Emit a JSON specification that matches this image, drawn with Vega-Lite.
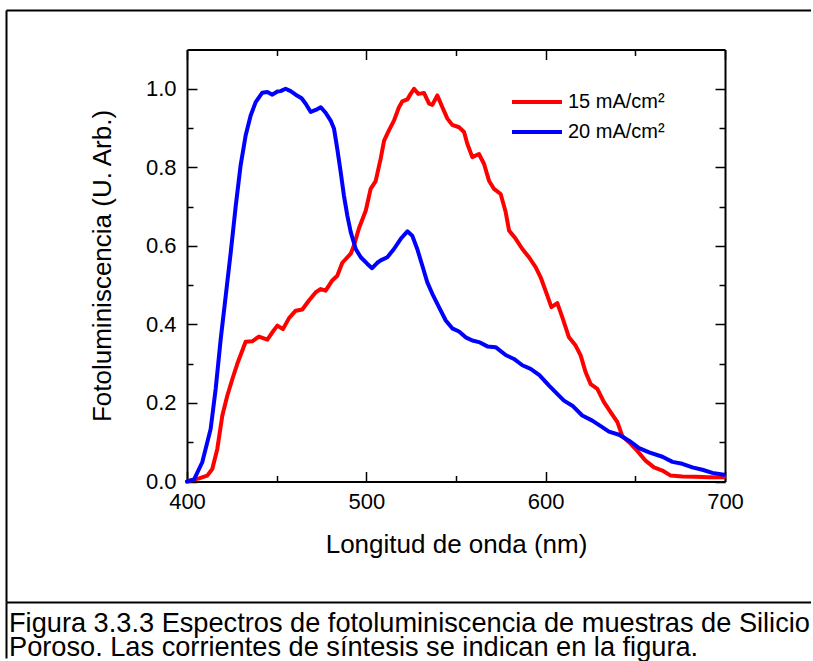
{
  "$schema": "https://vega.github.io/schema/vega-lite/v6.json",
  "padding": {"left": 6, "top": 10, "right": 0, "bottom": 0},
  "spacing": 0,
  "config": {
    "font": "Liberation Sans",
    "view": {"stroke": null},
    "axis": {"grid": false, "domainColor": "black", "domainWidth": 2, "tickColor": "black", "tickWidth": 1.5, "labelColor": "black", "titleColor": "black", "titleFontWeight": "normal"},
    "concat": {"spacing": 0}
  },
  "datasets": {
    "spectra": [
      {"wl": 400, "pl": 0.0, "serie": "15 mA/cm²"},
      {"wl": 406.7, "pl": 0.008, "serie": "15 mA/cm²"},
      {"wl": 411.3, "pl": 0.015, "serie": "15 mA/cm²"},
      {"wl": 414.1, "pl": 0.032, "serie": "15 mA/cm²"},
      {"wl": 416.9, "pl": 0.083, "serie": "15 mA/cm²"},
      {"wl": 419.7, "pl": 0.168, "serie": "15 mA/cm²"},
      {"wl": 422.5, "pl": 0.219, "serie": "15 mA/cm²"},
      {"wl": 425.3, "pl": 0.261, "serie": "15 mA/cm²"},
      {"wl": 428, "pl": 0.299, "serie": "15 mA/cm²"},
      {"wl": 430.8, "pl": 0.333, "serie": "15 mA/cm²"},
      {"wl": 432.7, "pl": 0.356, "serie": "15 mA/cm²"},
      {"wl": 436.4, "pl": 0.357, "serie": "15 mA/cm²"},
      {"wl": 440.1, "pl": 0.369, "serie": "15 mA/cm²"},
      {"wl": 444.8, "pl": 0.361, "serie": "15 mA/cm²"},
      {"wl": 447.6, "pl": 0.38, "serie": "15 mA/cm²"},
      {"wl": 450.4, "pl": 0.397, "serie": "15 mA/cm²"},
      {"wl": 453.5, "pl": 0.388, "serie": "15 mA/cm²"},
      {"wl": 456.9, "pl": 0.416, "serie": "15 mA/cm²"},
      {"wl": 460.6, "pl": 0.435, "serie": "15 mA/cm²"},
      {"wl": 464.3, "pl": 0.438, "serie": "15 mA/cm²"},
      {"wl": 468, "pl": 0.461, "serie": "15 mA/cm²"},
      {"wl": 471.8, "pl": 0.482, "serie": "15 mA/cm²"},
      {"wl": 474.6, "pl": 0.49, "serie": "15 mA/cm²"},
      {"wl": 477.3, "pl": 0.486, "serie": "15 mA/cm²"},
      {"wl": 481, "pl": 0.512, "serie": "15 mA/cm²"},
      {"wl": 483.8, "pl": 0.524, "serie": "15 mA/cm²"},
      {"wl": 486.6, "pl": 0.557, "serie": "15 mA/cm²"},
      {"wl": 491.3, "pl": 0.58, "serie": "15 mA/cm²"},
      {"wl": 493.1, "pl": 0.601, "serie": "15 mA/cm²"},
      {"wl": 495.9, "pl": 0.645, "serie": "15 mA/cm²"},
      {"wl": 499.7, "pl": 0.69, "serie": "15 mA/cm²"},
      {"wl": 502.4, "pl": 0.745, "serie": "15 mA/cm²"},
      {"wl": 505.2, "pl": 0.765, "serie": "15 mA/cm²"},
      {"wl": 508, "pl": 0.822, "serie": "15 mA/cm²"},
      {"wl": 509.9, "pl": 0.868, "serie": "15 mA/cm²"},
      {"wl": 512.6, "pl": 0.894, "serie": "15 mA/cm²"},
      {"wl": 515.4, "pl": 0.919, "serie": "15 mA/cm²"},
      {"wl": 518.2, "pl": 0.953, "serie": "15 mA/cm²"},
      {"wl": 520.1, "pl": 0.968, "serie": "15 mA/cm²"},
      {"wl": 522.9, "pl": 0.973, "serie": "15 mA/cm²"},
      {"wl": 524.7, "pl": 0.987, "serie": "15 mA/cm²"},
      {"wl": 526.6, "pl": 1.0, "serie": "15 mA/cm²"},
      {"wl": 529, "pl": 0.987, "serie": "15 mA/cm²"},
      {"wl": 532.2, "pl": 0.989, "serie": "15 mA/cm²"},
      {"wl": 535, "pl": 0.962, "serie": "15 mA/cm²"},
      {"wl": 536.8, "pl": 0.959, "serie": "15 mA/cm²"},
      {"wl": 539.6, "pl": 0.983, "serie": "15 mA/cm²"},
      {"wl": 542.4, "pl": 0.953, "serie": "15 mA/cm²"},
      {"wl": 545.2, "pl": 0.924, "serie": "15 mA/cm²"},
      {"wl": 547.9, "pl": 0.908, "serie": "15 mA/cm²"},
      {"wl": 551.7, "pl": 0.902, "serie": "15 mA/cm²"},
      {"wl": 554.5, "pl": 0.89, "serie": "15 mA/cm²"},
      {"wl": 556.3, "pl": 0.86, "serie": "15 mA/cm²"},
      {"wl": 559.1, "pl": 0.826, "serie": "15 mA/cm²"},
      {"wl": 562.8, "pl": 0.834, "serie": "15 mA/cm²"},
      {"wl": 565.6, "pl": 0.809, "serie": "15 mA/cm²"},
      {"wl": 568.4, "pl": 0.766, "serie": "15 mA/cm²"},
      {"wl": 571.2, "pl": 0.745, "serie": "15 mA/cm²"},
      {"wl": 574.9, "pl": 0.732, "serie": "15 mA/cm²"},
      {"wl": 577.7, "pl": 0.686, "serie": "15 mA/cm²"},
      {"wl": 579.6, "pl": 0.639, "serie": "15 mA/cm²"},
      {"wl": 583.3, "pl": 0.618, "serie": "15 mA/cm²"},
      {"wl": 587, "pl": 0.592, "serie": "15 mA/cm²"},
      {"wl": 590.7, "pl": 0.571, "serie": "15 mA/cm²"},
      {"wl": 594.4, "pl": 0.546, "serie": "15 mA/cm²"},
      {"wl": 597.2, "pl": 0.52, "serie": "15 mA/cm²"},
      {"wl": 600, "pl": 0.485, "serie": "15 mA/cm²"},
      {"wl": 603.2, "pl": 0.444, "serie": "15 mA/cm²"},
      {"wl": 606.5, "pl": 0.454, "serie": "15 mA/cm²"},
      {"wl": 609.3, "pl": 0.418, "serie": "15 mA/cm²"},
      {"wl": 613, "pl": 0.367, "serie": "15 mA/cm²"},
      {"wl": 616.7, "pl": 0.346, "serie": "15 mA/cm²"},
      {"wl": 619.5, "pl": 0.321, "serie": "15 mA/cm²"},
      {"wl": 622.3, "pl": 0.278, "serie": "15 mA/cm²"},
      {"wl": 625.1, "pl": 0.248, "serie": "15 mA/cm²"},
      {"wl": 628.8, "pl": 0.236, "serie": "15 mA/cm²"},
      {"wl": 632.5, "pl": 0.202, "serie": "15 mA/cm²"},
      {"wl": 636.3, "pl": 0.176, "serie": "15 mA/cm²"},
      {"wl": 640, "pl": 0.151, "serie": "15 mA/cm²"},
      {"wl": 642.8, "pl": 0.115, "serie": "15 mA/cm²"},
      {"wl": 646.5, "pl": 0.1, "serie": "15 mA/cm²"},
      {"wl": 651.1, "pl": 0.078, "serie": "15 mA/cm²"},
      {"wl": 655.7, "pl": 0.053, "serie": "15 mA/cm²"},
      {"wl": 660.4, "pl": 0.036, "serie": "15 mA/cm²"},
      {"wl": 665.1, "pl": 0.028, "serie": "15 mA/cm²"},
      {"wl": 669.7, "pl": 0.015, "serie": "15 mA/cm²"},
      {"wl": 676.2, "pl": 0.013, "serie": "15 mA/cm²"},
      {"wl": 683.6, "pl": 0.012, "serie": "15 mA/cm²"},
      {"wl": 691, "pl": 0.011, "serie": "15 mA/cm²"},
      {"wl": 699.5, "pl": 0.011, "serie": "15 mA/cm²"},
      {"wl": 400, "pl": 0.0, "serie": "20 mA/cm²"},
      {"wl": 403.9, "pl": 0.005, "serie": "20 mA/cm²"},
      {"wl": 408.5, "pl": 0.049, "serie": "20 mA/cm²"},
      {"wl": 413.2, "pl": 0.134, "serie": "20 mA/cm²"},
      {"wl": 416, "pl": 0.236, "serie": "20 mA/cm²"},
      {"wl": 418.8, "pl": 0.363, "serie": "20 mA/cm²"},
      {"wl": 421.6, "pl": 0.473, "serie": "20 mA/cm²"},
      {"wl": 424.4, "pl": 0.584, "serie": "20 mA/cm²"},
      {"wl": 427.2, "pl": 0.703, "serie": "20 mA/cm²"},
      {"wl": 429.9, "pl": 0.805, "serie": "20 mA/cm²"},
      {"wl": 432.7, "pl": 0.881, "serie": "20 mA/cm²"},
      {"wl": 435.5, "pl": 0.932, "serie": "20 mA/cm²"},
      {"wl": 438.3, "pl": 0.966, "serie": "20 mA/cm²"},
      {"wl": 442, "pl": 0.99, "serie": "20 mA/cm²"},
      {"wl": 444.8, "pl": 0.992, "serie": "20 mA/cm²"},
      {"wl": 447.6, "pl": 0.985, "serie": "20 mA/cm²"},
      {"wl": 450.4, "pl": 0.993, "serie": "20 mA/cm²"},
      {"wl": 452.2, "pl": 0.994, "serie": "20 mA/cm²"},
      {"wl": 455, "pl": 1.0, "serie": "20 mA/cm²"},
      {"wl": 457.8, "pl": 0.994, "serie": "20 mA/cm²"},
      {"wl": 460.6, "pl": 0.985, "serie": "20 mA/cm²"},
      {"wl": 463.9, "pl": 0.976, "serie": "20 mA/cm²"},
      {"wl": 466.2, "pl": 0.962, "serie": "20 mA/cm²"},
      {"wl": 469, "pl": 0.941, "serie": "20 mA/cm²"},
      {"wl": 471.8, "pl": 0.946, "serie": "20 mA/cm²"},
      {"wl": 474.6, "pl": 0.953, "serie": "20 mA/cm²"},
      {"wl": 477.3, "pl": 0.939, "serie": "20 mA/cm²"},
      {"wl": 480.1, "pl": 0.919, "serie": "20 mA/cm²"},
      {"wl": 482, "pl": 0.898, "serie": "20 mA/cm²"},
      {"wl": 483.8, "pl": 0.847, "serie": "20 mA/cm²"},
      {"wl": 485.7, "pl": 0.788, "serie": "20 mA/cm²"},
      {"wl": 487.5, "pl": 0.728, "serie": "20 mA/cm²"},
      {"wl": 489.4, "pl": 0.677, "serie": "20 mA/cm²"},
      {"wl": 491.3, "pl": 0.635, "serie": "20 mA/cm²"},
      {"wl": 494.1, "pl": 0.592, "serie": "20 mA/cm²"},
      {"wl": 496.9, "pl": 0.571, "serie": "20 mA/cm²"},
      {"wl": 500.6, "pl": 0.554, "serie": "20 mA/cm²"},
      {"wl": 503.2, "pl": 0.543, "serie": "20 mA/cm²"},
      {"wl": 506.1, "pl": 0.557, "serie": "20 mA/cm²"},
      {"wl": 508, "pl": 0.563, "serie": "20 mA/cm²"},
      {"wl": 511.7, "pl": 0.571, "serie": "20 mA/cm²"},
      {"wl": 515.4, "pl": 0.592, "serie": "20 mA/cm²"},
      {"wl": 519.2, "pl": 0.618, "serie": "20 mA/cm²"},
      {"wl": 522.9, "pl": 0.637, "serie": "20 mA/cm²"},
      {"wl": 525.6, "pl": 0.626, "serie": "20 mA/cm²"},
      {"wl": 528.4, "pl": 0.592, "serie": "20 mA/cm²"},
      {"wl": 531.2, "pl": 0.55, "serie": "20 mA/cm²"},
      {"wl": 534, "pl": 0.507, "serie": "20 mA/cm²"},
      {"wl": 536.8, "pl": 0.478, "serie": "20 mA/cm²"},
      {"wl": 540.5, "pl": 0.444, "serie": "20 mA/cm²"},
      {"wl": 544.3, "pl": 0.41, "serie": "20 mA/cm²"},
      {"wl": 547.9, "pl": 0.39, "serie": "20 mA/cm²"},
      {"wl": 551.7, "pl": 0.382, "serie": "20 mA/cm²"},
      {"wl": 555.4, "pl": 0.367, "serie": "20 mA/cm²"},
      {"wl": 559.1, "pl": 0.359, "serie": "20 mA/cm²"},
      {"wl": 562.8, "pl": 0.355, "serie": "20 mA/cm²"},
      {"wl": 567.5, "pl": 0.344, "serie": "20 mA/cm²"},
      {"wl": 572.1, "pl": 0.342, "serie": "20 mA/cm²"},
      {"wl": 577.7, "pl": 0.322, "serie": "20 mA/cm²"},
      {"wl": 582.3, "pl": 0.312, "serie": "20 mA/cm²"},
      {"wl": 587, "pl": 0.296, "serie": "20 mA/cm²"},
      {"wl": 591.6, "pl": 0.287, "serie": "20 mA/cm²"},
      {"wl": 596.5, "pl": 0.271, "serie": "20 mA/cm²"},
      {"wl": 601.9, "pl": 0.244, "serie": "20 mA/cm²"},
      {"wl": 605.6, "pl": 0.227, "serie": "20 mA/cm²"},
      {"wl": 610.2, "pl": 0.206, "serie": "20 mA/cm²"},
      {"wl": 614.9, "pl": 0.193, "serie": "20 mA/cm²"},
      {"wl": 620.4, "pl": 0.168, "serie": "20 mA/cm²"},
      {"wl": 626, "pl": 0.155, "serie": "20 mA/cm²"},
      {"wl": 630.7, "pl": 0.141, "serie": "20 mA/cm²"},
      {"wl": 635.3, "pl": 0.127, "serie": "20 mA/cm²"},
      {"wl": 640.9, "pl": 0.119, "serie": "20 mA/cm²"},
      {"wl": 646.5, "pl": 0.104, "serie": "20 mA/cm²"},
      {"wl": 652.1, "pl": 0.085, "serie": "20 mA/cm²"},
      {"wl": 657.7, "pl": 0.074, "serie": "20 mA/cm²"},
      {"wl": 665.1, "pl": 0.063, "serie": "20 mA/cm²"},
      {"wl": 670.7, "pl": 0.05, "serie": "20 mA/cm²"},
      {"wl": 676.2, "pl": 0.045, "serie": "20 mA/cm²"},
      {"wl": 681.8, "pl": 0.036, "serie": "20 mA/cm²"},
      {"wl": 687.4, "pl": 0.03, "serie": "20 mA/cm²"},
      {"wl": 693, "pl": 0.022, "serie": "20 mA/cm²"},
      {"wl": 699.5, "pl": 0.017, "serie": "20 mA/cm²"}
    ],
    "caption": [
      {"texto": "Figura 3.3.3 Espectros de fotoluminiscencia de muestras de Silicio\nPoroso. Las corrientes de síntesis se indican en la figura."}
    ]
  },
  "vconcat": [
    {
      "width": 805,
      "height": 592,
      "data": {"name": "spectra"},
      "resolve": {"scale": {"x": "independent", "y": "independent"}, "axis": {"x": "independent", "y": "independent"}},
      "layer": [
        {
          "mark": {"type": "line", "strokeWidth": 4, "strokeJoin": "round", "strokeCap": "round"},
          "encoding": {
            "x": {
              "field": "wl", "type": "quantitative",
              "scale": {"domain": [400, 700], "range": [181, 719], "nice": false, "zero": false},
              "axis": {
                "orient": "bottom", "offset": -120.5,
                "values": [400, 450, 500, 550, 600, 650, 700],
                "tickSize": {"condition": {"test": "datum.value % 100 === 0", "value": -10}, "value": -6},
                "labelExpr": "datum.value % 100 === 0 ? datum.label : ''",
                "labelFlush": false, "labelOverlap": false,
                "labelFontSize": 22, "labelPadding": 20,
                "title": "Longitud de onda (nm)", "titleFontSize": 26, "titlePadding": 15
              }
            },
            "y": {
              "field": "pl", "type": "quantitative",
              "scale": {"domain": [0, 1.1], "range": [471.5, 39.5], "nice": false, "zero": false},
              "axis": {
                "orient": "left", "offset": -181,
                "values": [0, 0.1, 0.2, 0.3, 0.4, 0.5, 0.6, 0.7, 0.8, 0.9, 1.0],
                "tickSize": {"condition": {"test": "round(datum.value * 10) % 2 === 0", "value": -10}, "value": -6},
                "labelExpr": "round(datum.value * 10) % 2 === 0 ? format(datum.value, '.1f') : ''",
                "labelFlush": false, "labelOverlap": false,
                "labelFontSize": 22, "labelPadding": 21,
                "title": "Fotoluminiscencia (U. Arb.)", "titleFontSize": 26, "titlePadding": 30
              }
            },
            "color": {
              "field": "serie", "type": "nominal",
              "scale": {"domain": ["15 mA/cm²", "20 mA/cm²"], "range": ["#ff0000", "#0000ff"]},
              "legend": {
                "orient": "none", "legendX": 521, "legendY": 82, "title": null,
                "padding": 0, "symbolType": "M-5,0H5", "symbolSize": 100, "symbolStrokeWidth": 4,
                "labelFontSize": 20, "labelColor": "black", "labelOffset": 21, "rowPadding": 10
              }
            }
          }
        },
        {
          "mark": {"type": "line", "strokeOpacity": 0},
          "encoding": {
            "x": {
              "field": "wl", "type": "quantitative",
              "scale": {"domain": [400, 700], "range": [181, 719], "nice": false, "zero": false},
              "axis": {
                "orient": "top", "offset": -39.5,
                "values": [400, 450, 500, 550, 600, 650, 700],
                "tickSize": {"condition": {"test": "datum.value % 100 === 0", "value": -10}, "value": -6},
                "labels": false, "title": null
              }
            },
            "y": {
              "field": "pl", "type": "quantitative",
              "scale": {"domain": [0, 1.1], "range": [471.5, 39.5], "nice": false, "zero": false},
              "axis": {
                "orient": "right", "offset": -86,
                "values": [0, 0.1, 0.2, 0.3, 0.4, 0.5, 0.6, 0.7, 0.8, 0.9, 1.0],
                "tickSize": {"condition": {"test": "round(datum.value * 10) % 2 === 0", "value": -10}, "value": -6},
                "labels": false, "title": null
              }
            },
            "detail": {"field": "serie", "type": "nominal"}
          }
        },
        {
          "mark": {"type": "line", "strokeOpacity": 0},
          "encoding": {
            "x": {
              "field": "wl", "type": "quantitative",
              "scale": {"domain": [400, 700], "range": [0, 805], "nice": false, "zero": false},
              "axis": {"orient": "top", "offset": 0, "ticks": false, "labels": false, "title": null, "values": []}
            },
            "y": {
              "field": "pl", "type": "quantitative",
              "scale": {"domain": [0, 1.1], "range": [592, 0], "nice": false, "zero": false},
              "axis": {"orient": "left", "offset": 0, "ticks": false, "labels": false, "title": null, "values": []}
            },
            "detail": {"field": "serie", "type": "nominal"}
          }
        }
      ]
    },
    {
      "width": 805,
      "height": 56,
      "data": {"name": "caption"},
      "mark": {"type": "text", "align": "left", "baseline": "top", "lineBreak": "\n", "fontSize": 27.2, "lineHeight": 24, "dx": 3, "dy": 9, "color": "black"},
      "encoding": {
        "text": {"field": "texto"},
        "x": {"datum": 0, "type": "quantitative", "scale": {"domain": [0, 1]}, "axis": {"orient": "top", "ticks": false, "labels": false, "title": null, "values": []}},
        "y": {"datum": 1, "type": "quantitative", "scale": {"domain": [0, 1]}, "axis": {"orient": "left", "ticks": false, "labels": false, "title": null, "values": []}}
      }
    }
  ]
}
